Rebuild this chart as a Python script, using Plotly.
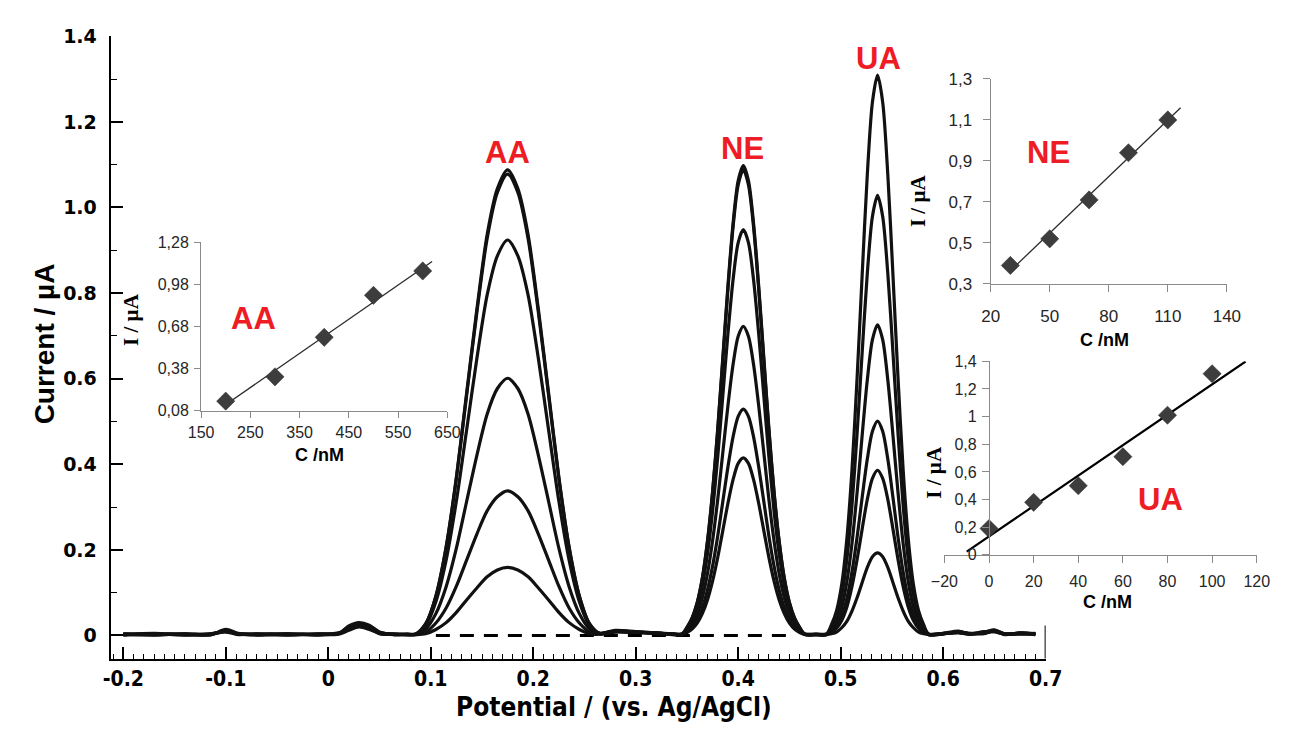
import plotly.graph_objects as go
import numpy as np

W, H = 1291, 729

# ---------------- main voltammograms ----------------
potential = [
    -0.2, -0.17, -0.14, -0.115, -0.1, -0.088, -0.07, -0.04, -0.01, 0.01, 0.02, 0.03, 0.04, 0.05, 0.065, 0.077,
    0.085, 0.095, 0.105, 0.115, 0.125, 0.135, 0.145, 0.155, 0.165, 0.175, 0.185, 0.195, 0.205, 0.215, 0.225,
    0.235, 0.245, 0.255, 0.265,
    0.28, 0.30, 0.32, 0.337,
    0.345, 0.35, 0.355, 0.36, 0.365, 0.37, 0.375, 0.38, 0.385, 0.39, 0.395, 0.40, 0.405, 0.41, 0.415, 0.42,
    0.425, 0.43, 0.435, 0.44, 0.445, 0.45, 0.455, 0.46, 0.465,
    0.476,
    0.486, 0.491, 0.496, 0.501, 0.506, 0.511, 0.516, 0.521, 0.526, 0.531, 0.536, 0.541, 0.546, 0.551, 0.556,
    0.561, 0.566, 0.571, 0.576, 0.581, 0.586,
    0.60, 0.615, 0.625, 0.64, 0.65, 0.66, 0.675, 0.69,
]

current_1 = [
    0.002, 0.004, 0.001, 0.003, 0.010, 0.003, 0.002, 0.004, 0.002, 0.003, 0.012, 0.020, 0.014, 0.005, 0.002, 0.002,
    0.002, 0.004, 0.014, 0.030, 0.054, 0.083, 0.111, 0.137, 0.153, 0.159, 0.153, 0.137, 0.111, 0.083, 0.054,
    0.030, 0.014, 0.004, 0.003,
    0.008, 0.007, 0.005, 0.003,
    0.003, 0.007, 0.015, 0.029, 0.051, 0.083, 0.127, 0.182, 0.245, 0.309, 0.364, 0.402, 0.415, 0.402, 0.364,
    0.309, 0.245, 0.182, 0.127, 0.083, 0.051, 0.029, 0.015, 0.007, 0.003,
    0.002,
    0.002, 0.004, 0.008, 0.018, 0.033, 0.057, 0.088, 0.124, 0.159, 0.184, 0.193, 0.184, 0.159, 0.124, 0.088,
    0.057, 0.033, 0.018, 0.008, 0.004, 0.002,
    0.004, 0.008, 0.004, 0.006, 0.010, 0.003, 0.005, 0.003,
]
current_2 = [
    0.003, 0.001, 0.004, 0.002, 0.012, 0.004, 0.003, 0.001, 0.003, 0.004, 0.018, 0.026, 0.020, 0.006, 0.003, 0.002,
    0.002, 0.008, 0.029, 0.064, 0.115, 0.176, 0.237, 0.291, 0.324, 0.338, 0.324, 0.291, 0.237, 0.176, 0.115,
    0.064, 0.029, 0.008, 0.004,
    0.010, 0.008, 0.006, 0.004,
    0.003, 0.009, 0.020, 0.037, 0.065, 0.106, 0.162, 0.232, 0.313, 0.394, 0.464, 0.512, 0.529, 0.512, 0.464,
    0.394, 0.313, 0.232, 0.162, 0.106, 0.065, 0.037, 0.020, 0.009, 0.003,
    0.003,
    0.003, 0.007, 0.017, 0.035, 0.066, 0.114, 0.177, 0.249, 0.318, 0.367, 0.386, 0.367, 0.318, 0.249, 0.177,
    0.114, 0.066, 0.035, 0.017, 0.007, 0.003,
    0.005, 0.006, 0.003, 0.008, 0.012, 0.004, 0.003, 0.005,
]
current_3 = [
    0.001, 0.003, 0.002, 0.004, 0.008, 0.002, 0.004, 0.002, 0.004, 0.005, 0.022, 0.030, 0.024, 0.008, 0.002, 0.003,
    0.003, 0.015, 0.051, 0.114, 0.204, 0.313, 0.421, 0.517, 0.577, 0.601, 0.577, 0.517, 0.421, 0.313, 0.204,
    0.114, 0.051, 0.015, 0.005,
    0.012, 0.009, 0.006, 0.003,
    0.002, 0.012, 0.027, 0.051, 0.088, 0.144, 0.221, 0.317, 0.427, 0.537, 0.633, 0.699, 0.722, 0.699, 0.633,
    0.537, 0.427, 0.317, 0.221, 0.144, 0.088, 0.051, 0.027, 0.012, 0.002,
    0.002,
    0.002, 0.010, 0.022, 0.046, 0.086, 0.148, 0.229, 0.323, 0.412, 0.477, 0.501, 0.477, 0.412, 0.323, 0.229,
    0.148, 0.086, 0.046, 0.022, 0.010, 0.002,
    0.003, 0.009, 0.005, 0.004, 0.011, 0.002, 0.006, 0.004,
]
current_4 = [
    0.004, 0.002, 0.003, 0.001, 0.014, 0.005, 0.001, 0.003, 0.002, 0.006, 0.015, 0.024, 0.018, 0.004, 0.003, 0.002,
    0.003, 0.023, 0.079, 0.176, 0.314, 0.480, 0.647, 0.795, 0.887, 0.924, 0.887, 0.795, 0.647, 0.480, 0.314,
    0.176, 0.079, 0.023, 0.004,
    0.009, 0.007, 0.005, 0.002,
    0.003, 0.016, 0.035, 0.066, 0.116, 0.190, 0.290, 0.416, 0.560, 0.705, 0.831, 0.918, 0.948, 0.918, 0.831,
    0.705, 0.560, 0.416, 0.290, 0.190, 0.116, 0.066, 0.035, 0.016, 0.003,
    0.002,
    0.002, 0.014, 0.032, 0.066, 0.125, 0.214, 0.333, 0.468, 0.597, 0.691, 0.726, 0.691, 0.597, 0.468, 0.333,
    0.214, 0.125, 0.066, 0.032, 0.014, 0.002,
    0.004, 0.007, 0.003, 0.009, 0.008, 0.004, 0.004, 0.002,
]
current_5 = [
    0.002, 0.005, 0.002, 0.003, 0.011, 0.003, 0.003, 0.002, 0.003, 0.004, 0.020, 0.028, 0.016, 0.007, 0.002, 0.003,
    0.003, 0.027, 0.092, 0.205, 0.367, 0.561, 0.755, 0.927, 1.035, 1.078, 1.035, 0.927, 0.755, 0.561, 0.367,
    0.205, 0.092, 0.027, 0.005,
    0.011, 0.008, 0.005, 0.003,
    0.003, 0.018, 0.040, 0.076, 0.133, 0.218, 0.333, 0.478, 0.643, 0.809, 0.954, 1.053, 1.088, 1.053, 0.954,
    0.809, 0.643, 0.478, 0.333, 0.218, 0.133, 0.076, 0.040, 0.018, 0.003,
    0.003,
    0.003, 0.020, 0.045, 0.094, 0.177, 0.303, 0.471, 0.662, 0.846, 0.979, 1.028, 0.979, 0.846, 0.662, 0.471,
    0.303, 0.177, 0.094, 0.045, 0.020, 0.003,
    0.005, 0.010, 0.004, 0.007, 0.013, 0.003, 0.005, 0.004,
]
current_6 = [
    0.003, 0.002, 0.004, 0.002, 0.009, 0.004, 0.002, 0.004, 0.001, 0.005, 0.016, 0.022, 0.021, 0.005, 0.003, 0.002,
    0.002, 0.027, 0.092, 0.207, 0.370, 0.566, 0.762, 0.936, 1.044, 1.088, 1.044, 0.936, 0.762, 0.566, 0.370,
    0.207, 0.092, 0.027, 0.004,
    0.010, 0.008, 0.006, 0.002,
    0.002, 0.019, 0.041, 0.077, 0.134, 0.220, 0.336, 0.482, 0.649, 0.817, 0.963, 1.063, 1.098, 1.063, 0.963,
    0.817, 0.649, 0.482, 0.336, 0.220, 0.134, 0.077, 0.041, 0.019, 0.002,
    0.002,
    0.002, 0.025, 0.058, 0.119, 0.225, 0.386, 0.600, 0.843, 1.077, 1.246, 1.309, 1.246, 1.077, 0.843, 0.600,
    0.386, 0.225, 0.119, 0.058, 0.025, 0.002,
    0.004, 0.008, 0.005, 0.006, 0.011, 0.003, 0.006, 0.003,
]
currents = [current_1, current_2, current_3, current_4, current_5, current_6]

baseline_x = [0.105, 0.45]
baseline_y = [0.0, 0.0]

main_xticks = [-0.2, -0.1, 0.0, 0.1, 0.2, 0.3, 0.4, 0.5, 0.6, 0.7]
main_xtick_text = ["-0.2", "-0.1", "0", "0.1", "0.2", "0.3", "0.4", "0.5", "0.6", "0.7"]
main_yticks = [0.0, 0.2, 0.4, 0.6, 0.8, 1.0, 1.2, 1.4]
main_ytick_text = ["0", "0.2", "0.4", "0.6", "0.8", "1.0", "1.2", "1.4"]

# ---------------- calibration insets ----------------
aa_conc = [200, 300, 400, 500, 600]
aa_current = [0.149, 0.322, 0.603, 0.902, 1.075]
aa_fit_span = [196, 619]
aa_xticks = [150, 250, 350, 450, 550, 650]
aa_yticks = [0.08, 0.38, 0.68, 0.98, 1.28]
aa_ytick_text = ["0,08", "0,38", "0,68", "0,98", "1,28"]

ne_conc = [30, 50, 70, 90, 110]
ne_current = [0.39, 0.52, 0.71, 0.94, 1.10]
ne_fit_span = [29.6, 116.5]
ne_xticks = [20, 50, 80, 110, 140]
ne_yticks = [0.3, 0.5, 0.7, 0.9, 1.1, 1.3]
ne_ytick_text = ["0,3", "0,5", "0,7", "0,9", "1,1", "1,3"]

ua_conc = [0, 20, 40, 60, 80, 100]
ua_current = [0.19, 0.38, 0.50, 0.71, 1.01, 1.31]
ua_fit_span = [-10, 115]
ua_xticks = [-20, 0, 20, 40, 60, 80, 100, 120]
ua_yticks = [0.0, 0.2, 0.4, 0.6, 0.8, 1.0, 1.2, 1.4]
ua_ytick_text = ["0", "0,2", "0,4", "0,6", "0,8", "1", "1,2", "1,4"]


def fx(px):
    return px / W


def fy(py):
    return 1 - py / H


RED = "#ee1c25"
NARROW = "DejaVu Sans Condensed, Liberation Sans Narrow, Liberation Sans, sans-serif"
SANS = "Liberation Sans, Arial, sans-serif"

fig = go.Figure()

fig.add_trace(go.Scatter(x=baseline_x, y=baseline_y, mode="lines",
                         line=dict(color="black", width=3, dash="14px,10px"),
                         xaxis="x", yaxis="y", hoverinfo="skip"))
for cur in currents:
    fig.add_trace(go.Scatter(x=potential, y=cur, mode="lines",
                             line=dict(color="#111111", width=3.2, shape="spline", smoothing=0.8),
                             xaxis="x", yaxis="y", hoverinfo="skip"))


def add_inset(conc, cur, span, xa, ya, lw, lcol):
    k, b = np.polyfit(conc, cur, 1)
    xs = np.array(span, dtype=float)
    fig.add_trace(go.Scatter(x=xs, y=k * xs + b, mode="lines",
                             line=dict(color=lcol, width=lw), xaxis=xa, yaxis=ya, hoverinfo="skip"))
    fig.add_trace(go.Scatter(x=conc, y=cur, mode="markers",
                             marker=dict(symbol="diamond", size=14, color="#3d3d3d",
                                         line=dict(color="#2a2a2a", width=0.5)),
                             xaxis=xa, yaxis=ya, hoverinfo="skip"))


add_inset(aa_conc, aa_current, aa_fit_span, "x2", "y2", 1.3, "#2b2b2b")
add_inset(ne_conc, ne_current, ne_fit_span, "x3", "y3", 1.3, "#2b2b2b")
add_inset(ua_conc, ua_current, ua_fit_span, "x4", "y4", 2.2, "black")

inset_tick_font = dict(family=SANS, size=16, color="#262626")
gray = "#8a8a8a"

fig.update_layout(
    width=W, height=H,
    margin=dict(l=0, r=0, t=0, b=0),
    paper_bgcolor="white", plot_bgcolor="rgba(0,0,0,0)",
    showlegend=False,
    xaxis=dict(domain=[fx(99), fx(1057)], range=[-0.2124, 0.7], anchor="y",
               showline=True, linecolor="black", linewidth=2, showgrid=False, zeroline=False,
               ticks="inside", ticklen=12, tickwidth=1.5, tickcolor="black",
               tickvals=main_xticks, ticktext=main_xtick_text,
               tickfont=dict(family=NARROW, size=21, color="black", weight="bold"),
               ticklabelstandoff=0,
               minor=dict(ticks="inside", ticklen=5, tickwidth=1.2, tickcolor="black", dtick=0.01)),
    yaxis=dict(domain=[fy(667), fy(26)], range=[-0.0545, 1.4], anchor="x",
               showline=True, linecolor="black", linewidth=2, showgrid=False, zeroline=False,
               ticks="inside", ticklen=12, tickwidth=1.5, tickcolor="black",
               tickvals=main_yticks, ticktext=main_ytick_text,
               tickfont=dict(family="DejaVu Sans, sans-serif", size=19, color="black", weight="bold"),
               ticklabelstandoff=8,
               minor=dict(ticks="inside", ticklen=6, tickwidth=1.2, tickcolor="black", dtick=0.1)),
    # AA inset
    xaxis2=dict(domain=[fx(191.7), fx(444)], range=[150, 650], anchor="y2",
                showline=True, linecolor=gray, linewidth=1.2, showgrid=False, zeroline=False,
                ticks="outside", ticklen=6, tickcolor=gray, tickvals=aa_xticks,
                tickfont=inset_tick_font, ticklabelstandoff=1),
    yaxis2=dict(domain=[fy(411.7), fy(238)], range=[0.08, 1.28], anchor="x2",
                showline=True, linecolor=gray, linewidth=1.2, showgrid=False, zeroline=False,
                ticks="outside", ticklen=6, tickcolor=gray, tickvals=aa_yticks, ticktext=aa_ytick_text,
                tickfont=inset_tick_font, ticklabelstandoff=2),
    # NE inset
    xaxis3=dict(domain=[fx(1000.7), fx(1242.7)], range=[20, 140], anchor="y3",
                showline=True, linecolor=gray, linewidth=1.2, showgrid=False, zeroline=False,
                ticks="outside", ticklen=7, tickcolor=gray, tickvals=ne_xticks,
                tickfont=dict(family=SANS, size=17, color="#262626"), ticklabelstandoff=10),
    yaxis3=dict(domain=[fy(281), fy(70)], range=[0.3, 1.3], anchor="x3",
                showline=True, linecolor=gray, linewidth=1.2, showgrid=False, zeroline=False,
                ticks="outside", ticklen=7, tickcolor=gray, tickvals=ne_yticks, ticktext=ne_ytick_text,
                tickfont=dict(family=SANS, size=17, color="#262626"), ticklabelstandoff=7),
    # UA inset
    xaxis4=dict(domain=[fx(953.3), fx(1273.3)], range=[-20, 120], anchor="y4",
                showline=True, linecolor=gray, linewidth=1.2, showgrid=False, zeroline=False,
                ticks="outside", ticklen=7, tickcolor=gray, tickvals=ua_xticks,
                tickfont=inset_tick_font, ticklabelstandoff=5),
    yaxis4=dict(domain=[fy(560), fy(360.7)], range=[0, 1.4], anchor="free", position=fx(999),
                showline=True, linecolor=gray, linewidth=1.2, showgrid=False, zeroline=False,
                ticks="outside", ticklen=7, tickcolor=gray, tickvals=ua_yticks, ticktext=ua_ytick_text,
                tickfont=inset_tick_font, ticklabelstandoff=2),
)

# short closing mark at the right end of the potential axis
fig.add_shape(type="line", xref="x", yref="y", x0=0.7, x1=0.7, y0=-0.0545, y1=0.023,
              line=dict(color="black", width=2))


def ann(text, px, py, size, color="black", family=SANS, angle=0, bold=True):
    fig.add_annotation(text=text, x=fx(px), y=fy(py), xref="paper", yref="paper",
                       showarrow=False, textangle=angle, xanchor="center", yanchor="middle",
                       font=dict(family=family, size=size, color=color,
                                 weight="bold" if bold else "normal"))


# axis titles
ann("Current / µA", 31, 343, 28, angle=-90)
ann("Potential / (vs. Ag/AgCl)", 615, 717, 26, family=NARROW)
ann("I / µA", 120, 318, 21, family="Liberation Serif, serif", angle=-90)
ann("C /nM", 313, 457, 18)
ann("I / µA", 927, 195, 21, family="Liberation Serif, serif", angle=-90)
ann("C /nM", 1117, 339, 18)
ann("I / µA", 943, 475, 21, family="Liberation Serif, serif", angle=-90)
ann("C /nM", 1120, 609, 18)

# analyte labels
ann("AA", 506, 146, 31, color=RED)
ann("NE", 746, 142, 31, color=RED)
ann("UA", 886, 49, 31, color=RED)
ann("AA", 245, 317, 31, color=RED)
ann("NE", 1060, 146, 31, color=RED)
ann("UA", 1175, 503, 31, color=RED)

fig.write_html("out.html")
